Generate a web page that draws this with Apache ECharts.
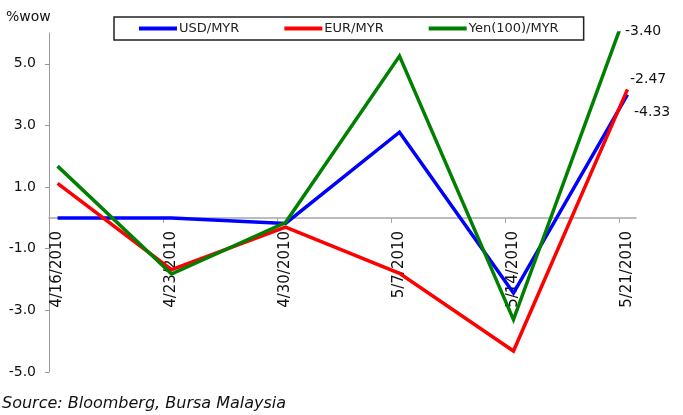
<!DOCTYPE html>
<html>
<head>
<meta charset="utf-8">
<script src="https://cdn.jsdelivr.net/npm/echarts@6/dist/echarts.min.js"></script>
<style>
  html, body { margin: 0; padding: 0; background: #fff; }
  #chart { width: 683px; height: 415px; }
</style>
</head>
<body>
<div id="chart"></div>
<script>
// Weekly % change of MYR crosses
const categories = ['4/16/2010', '4/23/2010', '4/30/2010', '5/7/2010', '5/14/2010', '5/21/2010'];
const usdMyr = [0.0, 0.0, -0.18, 2.78, -2.44, 4.0];
const eurMyr = [1.12, -1.68, -0.3, -1.8, -4.32, 4.17];
const yenMyr = [1.68, -1.82, -0.15, 5.25, -3.3, 6.8];
const yTicks = [-5, -3, -1, 1, 3, 5];
const endNotes = ['-3.40', '-2.47', '-4.33'];

const FONT = 'DejaVu Sans';
const pad = 0.075;            // half-gap at both ends of the category run
const idx = categories.map((_, i) => i);
const toPairs = arr => arr.map((v, i) => [i, v]);
const GRID = { left: 49, right: 47, top: 33, bottom: 43 };
const LABEL_GAP = 13;         // distance of date labels below the zero line

const chart = echarts.init(document.getElementById('chart'));

function lineSeries(name, data, color) {
  return {
    name: name,
    type: 'line',
    data: toPairs(data),
    symbol: 'none',
    clip: true,
    lineStyle: { color: color, width: 3.5, join: 'miter' },
    itemStyle: { color: color },
    emphasis: { disabled: true }
  };
}

chart.setOption({
  animation: false,
  backgroundColor: '#ffffff',
  textStyle: { fontFamily: FONT },
  grid: Object.assign({ containLabel: false, outerBoundsMode: 'none' }, GRID),
  legend: {
    left: 114,
    top: 17,
    padding: [5, 25, 5, 25],
    itemGap: 45,
    itemWidth: 38,
    itemHeight: 4,
    icon: 'rect',
    borderColor: '#222',
    borderWidth: 1.5,
    textStyle: { fontFamily: FONT, fontSize: 13, color: '#222', padding: [0, 0, 0, -3] },
    data: ['USD/MYR', 'EUR/MYR', 'Yen(100)/MYR']
  },
  xAxis: {
    type: 'value',
    min: -pad,
    max: categories.length - 1 + pad,
    splitLine: { show: false },
    axisLine: { onZero: true, lineStyle: { color: '#a6a6a6', width: 1.5 } },
    axisTick: {
      show: true,
      inside: false,
      length: 5,
      customValues: idx.slice(1).map(i => i - pad),
      lineStyle: { color: '#a6a6a6', width: 1 }
    },
    axisLabel: {
      customValues: idx,
      rotate: 90,
      margin: LABEL_GAP,
      fontFamily: FONT,
      fontSize: 15,
      color: '#111',
      formatter: v => categories[Math.round(v)]
    }
  },
  yAxis: {
    type: 'value',
    min: -5,
    max: 6,
    interval: 2,
    splitLine: { show: false },
    axisLine: { show: true, onZero: false, lineStyle: { color: '#999999', width: 1 } },
    axisTick: { show: true, length: 4, customValues: yTicks, lineStyle: { color: '#999999' } },
    axisLabel: {
      customValues: yTicks,
      margin: 13,
      fontFamily: FONT,
      fontSize: 14,
      color: '#111',
      formatter: v => v.toFixed(1)
    }
  },
  series: [
    lineSeries('USD/MYR', usdMyr, '#0000ff'),
    lineSeries('EUR/MYR', eurMyr, '#ff0000'),
    lineSeries('Yen(100)/MYR', yenMyr, '#008000')
  ],
  graphic: [
    { type: 'text', left: 6, top: 10, style: { text: '%wow', font: '14px "DejaVu Sans"', fill: '#111' } },
    { type: 'text', left: 625, top: 24, style: { text: endNotes[0], font: '14px "DejaVu Sans"', fill: '#111' } },
    { type: 'text', left: 630, top: 72, style: { text: endNotes[1], font: '14px "DejaVu Sans"', fill: '#111' } },
    { type: 'text', left: 634, top: 105, style: { text: endNotes[2], font: '14px "DejaVu Sans"', fill: '#111' } },
    { type: 'text', left: 2, top: 396, style: { text: 'Source: Bloomberg, Bursa Malaysia', font: 'italic 16px "DejaVu Sans"', fill: '#111' } }
  ]
});

// Date labels hang just under the zero line rather than the bottom of the plot
const zeroY = chart.convertToPixel({ yAxisIndex: 0 }, 0);
const plotBottom = chart.getHeight() - GRID.bottom;
chart.setOption({ xAxis: { axisLabel: { margin: LABEL_GAP - (plotBottom - zeroY) } } });
</script>
</body>
</html>
